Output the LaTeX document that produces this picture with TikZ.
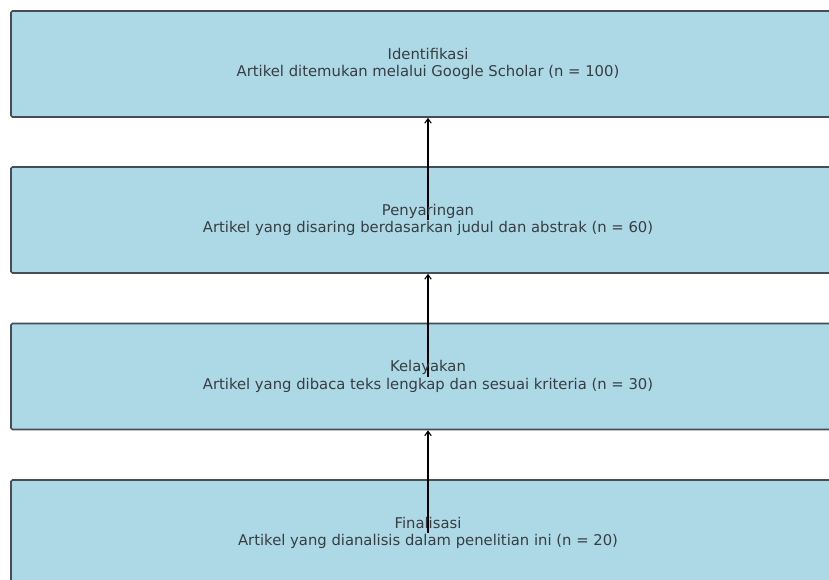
\documentclass[tikz,border=0pt]{standalone}
\usepackage{fontspec}
\setmainfont{DejaVu Sans}
\usetikzlibrary{arrows.meta}
\definecolor{boxblue}{RGB}{173,216,230}
\definecolor{edgegray}{RGB}{68,78,84}
\definecolor{txtgray}{RGB}{55,62,66}
\begin{document}
\begin{tikzpicture}[x=1pt, y=-1pt, >={Straight Barb[length=4.5pt,width=6.5pt]},
  box/.style={draw=edgegray, line width=1.6pt, fill=boxblue, rounded corners=1.5pt,
    minimum width=834pt, minimum height=106pt, inner sep=0pt},
  lbl/.style={text=txtgray, align=center, font=\fontsize{14.8}{17.8}\selectfont}]
\clip (0,0) rectangle (829,580);
\fill[white] (0,0) rectangle (829,580);
% the four stages
\node[box] (b1) at (428,64) {};
\node[box] (b2) at (428,220) {};
\node[box] (b3) at (428,376.5) {};
\node[box] (b4) at (428,533) {};
% arrows go upwards
\draw[->, line width=1.1pt] (b2.center)--(b1.south);
\draw[->, line width=1.1pt] (b3.center)--(b2.south);
\draw[->, line width=1.1pt] (b4.center)--(b3.south);
% labels
\node[lbl] (t1) at (b1.center) {Identifikasi\\Artikel ditemukan melalui Google Scholar (n = 100)};
\node[lbl] (t2) at (b2.center) {Penyaringan\\Artikel yang disaring berdasarkan judul dan abstrak (n = 60)};
\node[lbl] (t3) at (b3.center) {Kelayakan\\Artikel yang dibaca teks lengkap dan sesuai kriteria (n = 30)};
\node[lbl] (t4) at (b4.center) {Finalisasi\\Artikel yang dianalisis dalam penelitian ini (n = 20)};
\end{tikzpicture}
\end{document}
